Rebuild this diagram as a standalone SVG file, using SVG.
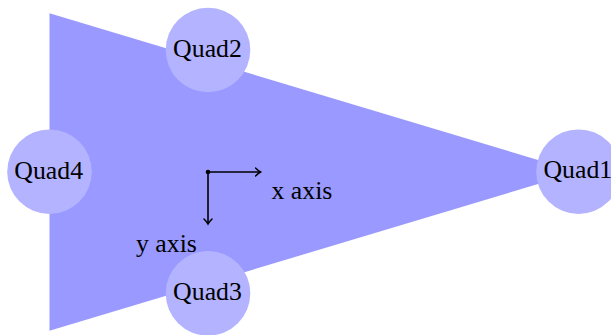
<svg xmlns="http://www.w3.org/2000/svg" width="611" height="335" viewBox="0 0 611 335">
<defs>
<style>
.q{fill:#b3b3ff}
.t{font-family:"Liberation Serif","Times New Roman",serif;font-size:25.8px;fill:#000}
.ax{stroke:#000;stroke-width:1.6;fill:none}
</style>
<marker id="arr" viewBox="-6 -5 8 10" markerWidth="8" markerHeight="10" refX="0" refY="0" orient="auto" markerUnits="userSpaceOnUse">
<path d="M-5,-4 Q-2,-1 0,0 Q-2,1 -5,4" fill="none" stroke="#000" stroke-width="1.5" stroke-linecap="round"/>
</marker>
</defs>
<rect width="611" height="335" fill="#fff"/>
<polygon id="triangle" points="49.5,13.3 49.5,330.7 578,172" fill="#9999ff"/>
<g id="connectors">
<line class="ax" x1="208" y1="172" x2="260.5" y2="172" marker-end="url(#arr)"/>
<line class="ax" x1="208" y1="172" x2="208" y2="224" marker-end="url(#arr)"/>
<circle cx="208" cy="172" r="2.3" fill="#000"/>
<text class="t" x="271.5" y="199.3">x axis</text>
<text class="t" x="136" y="251.7">y axis</text>
</g>
<g id="quad2"><circle class="q" cx="208" cy="50" r="42.3"/><text class="t" x="207.5" y="56.7" text-anchor="middle">Quad2</text></g>
<g id="quad4"><circle class="q" cx="49.5" cy="171.7" r="42.3"/><text class="t" x="48.7" y="179.3" text-anchor="middle">Quad4</text></g>
<g id="quad3"><circle class="q" cx="208" cy="293.3" r="42.3"/><text class="t" x="207.5" y="300" text-anchor="middle">Quad3</text></g>
<g id="quad1"><circle class="q" cx="578.5" cy="171.7" r="42.3"/><text class="t" x="577.8" y="178.3" text-anchor="middle">Quad1</text></g>
</svg>
